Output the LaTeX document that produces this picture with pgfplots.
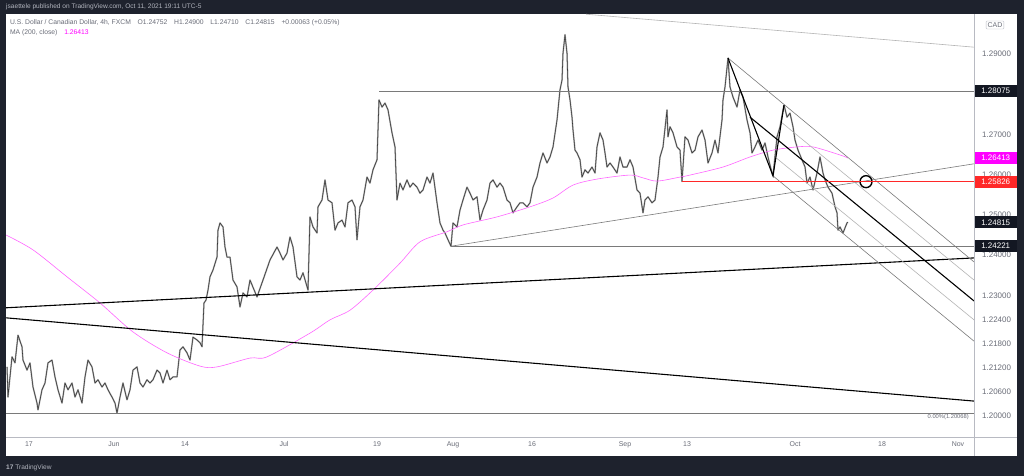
\documentclass[border=0pt]{standalone}
\usepackage{pgfplots}
\pgfplotsset{compat=1.18}
\usepackage{fontspec}
\setmainfont{Liberation Sans}

\definecolor{tvdark}{HTML}{1E222D}
\definecolor{tvhead}{HTML}{B2B5BE}
\definecolor{tvtick}{HTML}{6A6D78}
\definecolor{tvsep}{HTML}{B8BAC2}
\definecolor{tvbar}{HTML}{383838}
\definecolor{tvbarbody}{HTML}{A4A4A4}
\definecolor{tvma}{HTML}{FF66FF}
\definecolor{tvmabox}{HTML}{FF00FF}
\definecolor{levelred}{RGB}{255,40,40}
\definecolor{tvgray}{HTML}{7A7A7A}
\definecolor{tvlight}{HTML}{B4B4B4}
\definecolor{tvblack}{HTML}{131722}

\pgfplotstableread{
x y
7 1.2122
8 1.2047
12 1.2147
15 1.2132
18 1.2201
22 1.2172
23 1.2139
27 1.2114
30 1.2132
33 1.2072
37 1.2032
38 1.2015
42 1.2065
45 1.2082
48 1.2132
52 1.2139
55 1.2097
58 1.2065
62 1.2032
65 1.2082
68 1.2065
72 1.2082
75 1.2047
78 1.2065
82 1.2032
85 1.2097
88 1.2139
92 1.2122
95 1.2082
98 1.2090
102 1.2072
105 1.2082
108 1.2065
112 1.2047
115 1.2032
117 1.2007
120 1.2047
123 1.2082
127 1.2040
130 1.2065
133 1.2114
137 1.2122
140 1.2082
143 1.2072
147 1.2090
150 1.2082
153 1.2090
157 1.2114
160 1.2107
163 1.2082
167 1.2114
170 1.2090
173 1.2097
177 1.2097
180 1.2164
183 1.2172
187 1.2157
190 1.2139
193 1.2196
197 1.2189
200 1.2182
202 1.2172
204 1.2281
206 1.2288
208 1.2313
210 1.2346
213 1.2363
217 1.2395
218 1.2462
220 1.2480
223 1.2470
225 1.2420
227 1.2395
230 1.2395
233 1.2338
237 1.2321
240 1.2271
243 1.2306
247 1.2296
250 1.2338
257 1.2296
263 1.2338
270 1.2388
277 1.2420
280 1.2405
283 1.2388
287 1.2405
290 1.2445
293 1.2420
297 1.2346
300 1.2338
303 1.2356
308 1.2313
310 1.2495
313 1.2470
317 1.2455
318 1.2520
322 1.2537
325 1.2587
328 1.2537
332 1.2530
335 1.2462
338 1.2480
342 1.2487
345 1.2470
348 1.2530
352 1.2537
355 1.2520
357 1.2438
360 1.2520
363 1.2537
367 1.2594
370 1.2579
373 1.2612
377 1.2637
379 1.2786
382 1.2768
385 1.2778
388 1.2761
392 1.2704
395 1.2669
397 1.2537
400 1.2579
403 1.2562
407 1.2587
410 1.2569
413 1.2579
417 1.2569
420 1.2554
423 1.2562
427 1.2594
430 1.2579
433 1.2604
437 1.2530
440 1.2480
443 1.2462
445 1.2455
448 1.2438
451 1.2422
453 1.2480
457 1.2470
460 1.2512
463 1.2537
467 1.2569
470 1.2554
473 1.2537
477 1.2545
480 1.2487
483 1.2512
487 1.2537
490 1.2579
493 1.2587
497 1.2569
500 1.2579
503 1.2569
507 1.2537
510 1.2530
513 1.2505
517 1.2520
520 1.2530
523 1.2530
527 1.2520
530 1.2530
533 1.2569
537 1.2594
540 1.2629
543 1.2654
547 1.2629
550 1.2644
553 1.2669
557 1.2736
560 1.2811
562 1.2835
563 1.2902
565 1.2948
567 1.2902
568 1.2818
570 1.2786
572 1.2743
573 1.2711
575 1.2661
577 1.2654
580 1.2637
582 1.2594
585 1.2612
588 1.2604
592 1.2619
595 1.2604
597 1.2669
600 1.2704
603 1.2686
605 1.2654
607 1.2619
610 1.2629
613 1.2619
617 1.2604
620 1.2644
623 1.2619
627 1.2619
630 1.2637
633 1.2619
637 1.2562
640 1.2554
643 1.2505
645 1.2537
648 1.2545
652 1.2530
655 1.2537
658 1.2594
660 1.2644
663 1.2669
667 1.2761
668 1.2694
670 1.2719
673 1.2704
677 1.2669
680 1.2661
682 1.2583
685 1.2694
688 1.2686
692 1.2654
695 1.2661
698 1.2694
702 1.2711
705 1.2686
708 1.2629
712 1.2654
715 1.2686
718 1.2654
722 1.2736
723 1.2786
725 1.2818
728 1.2890
730 1.2818
733 1.2793
737 1.2768
740 1.2811
743 1.2793
747 1.2736
750 1.2704
752 1.2654
755 1.2669
758 1.2686
762 1.2661
765 1.2679
768 1.2644
772 1.2604
773 1.2597
777 1.2694
780 1.2719
784 1.2773
787 1.2743
790 1.2753
793 1.2719
795 1.2686
798 1.2661
802 1.2637
805 1.2619
807 1.2579
810 1.2594
813 1.2562
817 1.2604
820 1.2644
823 1.2604
825 1.2587
828 1.2569
832 1.2554
835 1.2520
837 1.2505
838 1.2462
840 1.2470
843 1.2455
847 1.2480
848 1.24815
}\pricetable

\pgfplotstableread{
x y
6 1.2450
33 1.2413
67 1.2346
100 1.2281
133 1.2209
167 1.2157
200 1.2124
217 1.2122
250 1.2144
267 1.2147
310 1.2206
330 1.2239
350 1.2263
373 1.2313
400 1.2380
420 1.2433
447 1.2458
463 1.2475
497 1.2495
530 1.2520
553 1.2542
573 1.2574
597 1.2589
630 1.2599
643 1.2592
657 1.2584
680 1.2594
690 1.2599
723 1.2619
750 1.2644
773 1.2661
797 1.2669
813 1.2669
840 1.2649
848 1.26413
}\matable

\begin{document}
\begin{tikzpicture}
% frame of the snapshot
\fill[tvdark] (0bp,0bp) rectangle (1024bp,476bp);
\fill[white] (6bp,20bp) rectangle (1017bp,462bp);
\node[anchor=west, inner sep=0pt, text=tvhead, font=\fontsize{6.6}{8}\selectfont] at (6bp,469bp)
  {jsaettele published on TradingView.com, Oct 11, 2021 19:11 UTC-5};
\node[anchor=west, inner sep=0pt, text=tvhead, font=\fontsize{6.6}{8}\selectfont] at (6bp,8bp)
  {\textbf{17} TradingView};

\begin{axis}[
    at={(6bp,39bp)}, anchor=south west,
    scale only axis, width=968bp, height=423bp,
    xmin=6, xmax=974, ymin=1.19477, ymax=1.29995,
    axis line style={draw=none},
    major tick length=0pt,
    clip mode=individual,
    xtick={29,114,185,284,377,453,532,625,687,795,882,958},
    xticklabels={17,Jun,14,Jul,19,Aug,16,Sep,13,Oct,18,Nov},
    xticklabel style={font=\fontsize{7}{8}\selectfont, text=tvtick, inner sep=0pt, yshift=-4.5bp},
    yticklabel pos=right,
    ytick={1.20,1.206,1.212,1.218,1.224,1.23,1.24,1.25,1.26,1.27,1.29},
    yticklabels={1.20000,1.20600,1.21200,1.21800,1.22400,1.23000,1.24000,1.25000,1.26000,1.27000,1.29000},
    yticklabel style={font=\fontsize{8}{9}\selectfont, text=tvtick, inner sep=0pt, xshift=8bp},
]

% USD/CAD 4h price path: a soft band for the bar bodies, then the wicks
\addplot[draw=tvbarbody, line width=1.5pt, line join=round] table {\pricetable};
\addplot[draw=tvbar, line width=0.55pt, line join=bevel] table {\pricetable};

% MA (200, close)
\addplot[draw=tvma, line width=0.6pt, smooth] table {\matable};

% drawn levels and trend lines
\addplot[draw=tvlight, line width=0.6pt] coordinates {(586,1.2999) (974,1.2917)};
\addplot[draw=tvgray, line width=0.7pt] coordinates {(379,1.28075) (974,1.28075)};
\addplot[draw=tvgray, line width=0.7pt] coordinates {(451,1.24221) (974,1.24221)};
\addplot[draw=tvgray, line width=0.6pt] coordinates {(451,1.24221) (974,1.2627)};
\addplot[draw=black, line width=1.1pt] coordinates {(6,1.2269) (974,1.2393)};
\addplot[draw=black, line width=1.1pt] coordinates {(6,1.2244) (974,1.2037)};
\addplot[draw=tvgray, line width=0.6pt] coordinates {(6,1.20068) (974,1.20068)};

% pitchfork
\addplot[draw=tvgray, line width=0.6pt] coordinates {(728,1.2890) (974,1.2383)};
\addplot[draw=tvlight, line width=0.6pt] coordinates {(781,1.2731) (974,1.2338)};
\addplot[draw=black, line width=1.1pt] coordinates {(750,1.2743) (974,1.2286)};
\addplot[draw=tvlight, line width=0.6pt] coordinates {(776,1.2642) (974,1.2239)};
\addplot[draw=tvgray, line width=0.6pt] coordinates {(773,1.2597) (974,1.2186)};
\addplot[draw=black, line width=1.1pt, line join=miter] coordinates {(728,1.2890) (773,1.2597) (784,1.2773)};

% circled level
\addplot[only marks, mark=o, mark size=6pt, mark options={line width=1.4pt, draw=black}] coordinates {(866,1.25826)};

% red support level
\draw[levelred, line width=1.2pt] (axis cs:682,1.25826) -- (axis cs:974,1.25826);

\node[anchor=north east, inner sep=0pt, text=tvtick, font=\fontsize{5.8}{7}\selectfont] at (axis cs:969,1.2004) {0.00\%(1.20068)};

% price scale labels
\begin{scope}[every node/.style={anchor=west, inner sep=0pt, minimum width=43bp, minimum height=12bp, text=white, font=\fontsize{8}{9}\selectfont}]
\node[fill=tvblack] at (axis cs:974,1.28075) {1.28075};
\node[fill=tvmabox] at (axis cs:974,1.26413) {1.26413};
\node[fill=levelred] at (axis cs:974,1.25826) {1.25826};
\node[fill=tvblack] at (axis cs:974,1.24815) {1.24815};
\node[fill=tvblack] at (axis cs:974,1.24221) {1.24221};
\end{scope}

% legend block
\node[anchor=west, inner sep=0pt, text=tvtick, font=\fontsize{6.8}{8}\selectfont] at (rel axis cs:0.004,0.9785)
  {U.S. Dollar / Canadian Dollar, 4h, FXCM\quad O1.24752\quad H1.24900\quad L1.24710\quad C1.24815\quad +0.00063 (+0.05\%)};
\node[anchor=west, inner sep=0pt, text=tvtick, font=\fontsize{6.8}{8}\selectfont] at (rel axis cs:0.004,0.9555)
  {MA (200, close)\quad\textcolor{tvmabox}{1.26413}};
\end{axis}

% panel separators and currency tag
\draw[tvsep, line width=0.8pt] (974bp,20bp) -- (974bp,462bp);
\draw[tvsep, line width=0.8pt] (6bp,39bp) -- (1017bp,39bp);
\node[draw=tvsep, fill=white, text=tvtick, rounded corners=1pt, inner sep=1.5pt, font=\fontsize{7}{8}\selectfont] at (995bp,451bp) {CAD};
\end{tikzpicture}
\end{document}
